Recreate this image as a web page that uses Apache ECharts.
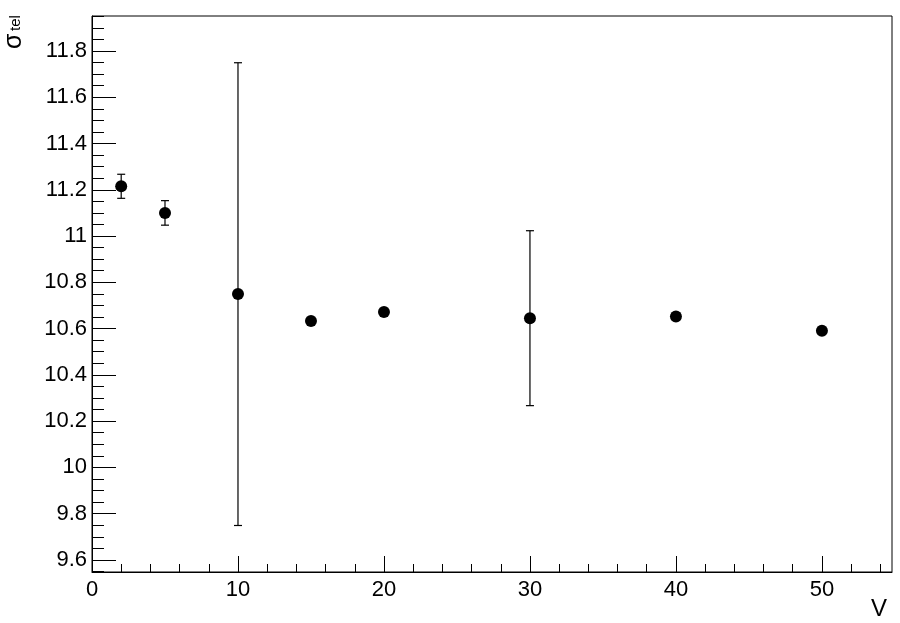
<!DOCTYPE html>
<html>
<head>
<meta charset="utf-8">
<script src="https://cdn.jsdelivr.net/npm/echarts@6/dist/echarts.min.js"></script>
<style>html,body{margin:0;padding:0;background:#fff;}#c{width:900px;height:623px;}</style>
</head>
<body>
<div id="c"></div>
<script>
// Data
const xValues = [2, 5, 10, 15, 20, 30, 40, 50];
const yValues = [11.215, 11.100, 10.749, 10.633, 10.672, 10.645, 10.652, 10.591];
const yErrors = [0.052, 0.053, 1.000, 0.010, 0.010, 0.378, 0.010, 0.012];

// Axis ticks / labels
const xMajorTicks = [0, 10, 20, 30, 40, 50];
const xMinorTicks = [2, 4, 6, 8, 12, 14, 16, 18, 22, 24, 26, 28, 32, 34, 36, 38, 42, 44, 46, 48, 52, 54];
const yMajorTicks = [9.6, 9.8, 10, 10.2, 10.4, 10.6, 10.8, 11, 11.2, 11.4, 11.6, 11.8];
const yMinorTicks = [9.55, 9.65, 9.7, 9.75, 9.85, 9.9, 9.95, 10.05, 10.1, 10.15, 10.25, 10.3, 10.35,
  10.45, 10.5, 10.55, 10.65, 10.7, 10.75, 10.85, 10.9, 10.95, 11.05, 11.1, 11.15, 11.25, 11.3, 11.35,
  11.45, 11.5, 11.55, 11.65, 11.7, 11.75, 11.85, 11.9, 11.95];
const xRange = [0, 54.8];
const yRange = [9.548, 11.951];
const yTitleMain = 'σ';
const yTitleSub = 'tel';
const xTitle = 'V';

const FONT = '"Liberation Sans", Arial, Helvetica, sans-serif';

const points = xValues.map((x, i) => [x, yValues[i]]);
const errData = xValues.map((x, i) => [x, yValues[i], yErrors[i]]);

function fmt(v) {
  return String(Math.round(v * 10) / 10);
}

const chart = echarts.init(document.getElementById('c'), null, {renderer: 'canvas'});
chart.setOption({
  animation: false,
  backgroundColor: '#fff',
  grid: {left: 92, top: 16, right: 8, bottom: 51, show: true, borderColor: '#000', borderWidth: 1, containLabel: false},
  xAxis: [
    {
      type: 'value', position: 'bottom', min: xRange[0], max: xRange[1],
      axisLine: {show: true, onZero: false, lineStyle: {color: '#000', width: 1}},
      axisTick: {show: true, inside: true, length: 16, customValues: xMajorTicks, lineStyle: {color: '#000', width: 1}},
      axisLabel: {show: true, customValues: xMajorTicks, margin: 7, color: '#000', fontSize: 22, fontFamily: FONT, formatter: fmt},
      splitLine: {show: false}
    },
    {
      type: 'value', position: 'bottom', min: xRange[0], max: xRange[1],
      axisLine: {show: false, onZero: false},
      axisTick: {show: true, inside: true, length: 8, customValues: xMinorTicks, lineStyle: {color: '#000', width: 1}},
      axisLabel: {show: false},
      splitLine: {show: false}
    }
  ],
  yAxis: [
    {
      type: 'value', position: 'left', min: yRange[0], max: yRange[1],
      axisLine: {show: true, onZero: false, lineStyle: {color: '#000', width: 1}},
      axisTick: {show: true, inside: true, length: 24, customValues: yMajorTicks, lineStyle: {color: '#000', width: 1}},
      axisLabel: {show: true, customValues: yMajorTicks, margin: 5, color: '#000', fontSize: 22, fontFamily: FONT, formatter: fmt},
      splitLine: {show: false}
    },
    {
      type: 'value', position: 'left', min: yRange[0], max: yRange[1],
      axisLine: {show: false, onZero: false},
      axisTick: {show: true, inside: true, length: 12, customValues: yMinorTicks, lineStyle: {color: '#000', width: 1}},
      axisLabel: {show: false},
      splitLine: {show: false}
    }
  ],
  graphic: [
    {
      type: 'text', left: 871, top: 597,
      style: {text: xTitle, fontSize: 24, fontFamily: FONT, fill: '#000'}
    },
    {
      type: 'text', x: 2, y: 49, rotation: Math.PI / 2,
      style: {text: yTitleMain, fontSize: 25, fontFamily: FONT, fill: '#000', textAlign: 'left', textVerticalAlign: 'top'}
    },
    {
      type: 'text', x: 8, y: 31, rotation: Math.PI / 2,
      style: {text: yTitleSub, fontSize: 15, fontFamily: FONT, fill: '#000', textAlign: 'left', textVerticalAlign: 'top'}
    }
  ],
  series: [
    {
      type: 'custom',
      xAxisIndex: 0, yAxisIndex: 0,
      data: errData,
      encode: {x: 0, y: 1},
      renderItem: function (params, api) {
        const x = api.value(0), y = api.value(1), e = api.value(2);
        const top = api.coord([x, y + e]);
        const bot = api.coord([x, y - e]);
        const cap = 4;
        const style = {stroke: '#000', lineWidth: 1.2, fill: null};
        return {
          type: 'group',
          children: [
            {type: 'line', shape: {x1: top[0], y1: top[1], x2: bot[0], y2: bot[1]}, style: style},
            {type: 'line', shape: {x1: top[0] - cap, y1: top[1], x2: top[0] + cap, y2: top[1]}, style: style},
            {type: 'line', shape: {x1: bot[0] - cap, y1: bot[1], x2: bot[0] + cap, y2: bot[1]}, style: style}
          ]
        };
      },
      z: 2
    },
    {
      type: 'scatter',
      xAxisIndex: 0, yAxisIndex: 0,
      data: points,
      symbol: 'circle',
      symbolSize: 12,
      itemStyle: {color: '#000', opacity: 1},
      z: 3
    }
  ]
});
</script>
</body>
</html>
